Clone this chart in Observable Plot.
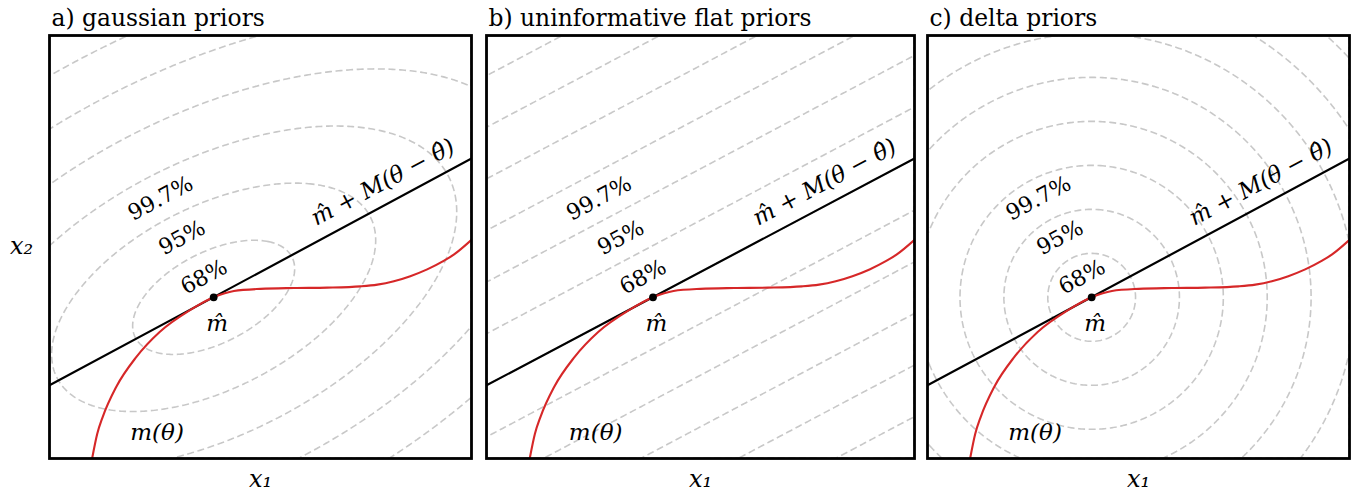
<!DOCTYPE html>
<html>
<head>
<meta charset="utf-8">
<script src="https://cdn.jsdelivr.net/npm/d3@7"></script>
<script src="https://cdn.jsdelivr.net/npm/@observablehq/plot@0.6"></script>
<style>
  html, body { margin: 0; padding: 0; background: #fff; }
  #root { position: relative; width: 1362px; height: 496px; overflow: hidden; background: #fff; }
  .panel { position: absolute; top: 0; }
  #root svg, #root svg text { font-family: "DejaVu Serif", serif !important; }
</style>
</head>
<body>
<div id="root"></div>
<script>
// ---------------- data ----------------
const panelTitles = ["a) gaussian priors", "b) uninformative flat priors", "c) delta priors"];

// best-fit point m-hat (data units, frame spans 0..10 on both axes)
const mHatX = [3.89];
const mHatY = [3.81];

// linearised model  m̂ + M(θ − θ̂): end points
const tangentX = [0, 10];
const tangentY = [1.73, 7.09];

// non-linear model curve m(θ)
const curveX = [1.01, 1.13, 1.26, 1.58, 2.05, 2.61, 3.32, 3.89, 4.37, 5.00, 5.79, 6.58, 7.37, 7.77, 8.16, 8.55, 8.95, 9.34, 9.58, 10.0];
const curveY = [0.00, 0.58, 0.98, 1.69, 2.39, 2.99, 3.50, 3.81, 3.96, 4.01, 4.03, 4.04, 4.07, 4.11, 4.19, 4.31, 4.47, 4.67, 4.82, 5.17];

// confidence level labels
const levelLabels = ["68%", "95%", "99.7%"];
const levelLabelX = [3.66, 3.14, 2.63];
const levelLabelY = [4.29, 5.22, 6.15];

// other annotations
const annoText = ["m\u0302", "m(\u03B8)", "m\u0302 + M(\u03B8 \u2212 \u03B8\u0302)"];
const annoX = [3.97, 2.55, 7.90];
const annoY = [3.18, 0.62, 6.53];
const annoRotate = [0, 0, -28];

// prior / contour parameters
const gaussSigma = [1.92, 1.35];   // sigma along x1, x2
const gaussRho = 0.5;              // correlation
const flatSpacing = 1.22;          // vertical spacing of the flat-prior level lines
const deltaRadius = 1.04;          // radius step of the delta-prior circles
const gaussLevels = [1, 2, 3, 4, 5, 6, 7, 8, 9];
const flatLevels = [-9, -8, -7, -6, -5, -4, -3, -2, -1, 0, 1, 2, 3, 4, 5, 6, 7, 8, 9];
const deltaLevels = [1, 2, 3, 4, 5, 6, 7, 8, 9, 10, 11, 12];

const axisLabelX = "x\u2081";
const axisLabelY = "x\u2082";

// ---------------- derived tables ----------------
const mHat = mHatX.map((x, i) => ({x, y: mHatY[i]}));
const tangent = tangentX.map((x, i) => ({x, y: tangentY[i]}));
const curve = curveX.map((x, i) => ({x, y: curveY[i]}));
const levelTable = levelLabels.map((t, i) => ({t, x: levelLabelX[i], y: levelLabelY[i]}));
const annoTable = annoText.map((t, i) => ({t, x: annoX[i], y: annoY[i], r: annoRotate[i]}));

const mx = mHatX[0], my = mHatY[0];
const [sx, sy] = gaussSigma;
const cov = gaussRho * sx * sy;
const det = sx * sx * sy * sy - cov * cov;
const slope = (tangentY[1] - tangentY[0]) / (tangentX[1] - tangentX[0]);
const intercept = tangentY[0] - slope * tangentX[0];

const gaussValue = (x, y) => {
  const dx = x - mx, dy = y - my;
  return Math.sqrt((sy * sy * dx * dx - 2 * cov * dx * dy + sx * sx * dy * dy) / det);
};
const flatValue = (x, y) => (y - (intercept + slope * x)) / flatSpacing;
const deltaValue = (x, y) => Math.hypot(x - mx, y - my) / deltaRadius;

// ---------------- layout ----------------
const FONT = "DejaVu Serif";
const panels = [
  {left: 0,   inner: 422, mR: 15, value: gaussValue, levels: gaussLevels, yLabel: true},
  {left: 437, inner: 428, mR: 13, value: flatValue,  levels: flatLevels,  yLabel: false},
  {left: 878, inner: 422, mR: 13, value: deltaValue, levels: deltaLevels, yLabel: false}
];

const root = document.getElementById("root");

panels.forEach((p, i) => {
  const mL = 49, mT = 35, mB = 38;
  const marks = [
    Plot.contour({
      value: p.value, x1: 0, y1: 0, x2: 10, y2: 10,
      thresholds: p.levels,
      fill: "none", stroke: "#c8c8c8", strokeWidth: 1.6, strokeDasharray: "7,3.6",
      clip: true
    }),
    Plot.line(tangent, {x: "x", y: "y", stroke: "black", strokeWidth: 2.2, clip: true}),
    Plot.line(curve, {x: "x", y: "y", stroke: "#d62728", strokeWidth: 2.1, curve: "monotone-x", clip: true}),
    Plot.dot(mHat, {x: "x", y: "y", r: 3.9, fill: "black", stroke: "none"}),
    Plot.text(levelTable, {x: "x", y: "y", text: "t", rotate: -28, fontSize: 22, textAnchor: "middle", lineAnchor: "middle", fill: "black", fontFamily: FONT}),
    Plot.text(annoTable, {x: "x", y: "y", text: "t", rotate: (d) => d.r, fontSize: 23, fontStyle: "italic", textAnchor: "middle", lineAnchor: "middle", fill: "black", fontFamily: FONT}),
    Plot.frame({stroke: "black", strokeWidth: 2.8}),
    Plot.text([panelTitles[i]], {text: (d) => d, frameAnchor: "top-left", textAnchor: "start", lineAnchor: "bottom", dx: 2, dy: -10, fontSize: 23.4, fill: "black", fontFamily: FONT}),
    Plot.text([axisLabelX], {text: (d) => d, frameAnchor: "bottom", textAnchor: "middle", lineAnchor: "bottom", dy: 28, fontSize: 24, fontStyle: "italic", fill: "black", fontFamily: FONT})
  ];
  if (p.yLabel) {
    marks.push(Plot.text([axisLabelY], {text: (d) => d, frameAnchor: "left", textAnchor: "middle", lineAnchor: "bottom", dx: -28, dy: 7, fontSize: 24, fontStyle: "italic", fill: "black", fontFamily: FONT}));
  }
  const chart = Plot.plot({
    width: mL + p.inner + p.mR,
    height: 496,
    marginLeft: mL, marginRight: p.mR, marginTop: mT, marginBottom: mB,
    x: {domain: [0, 10], axis: null},
    y: {domain: [0, 10], axis: null},
    style: {background: "transparent", overflow: "visible", fontFamily: FONT},
    marks
  });
  const div = document.createElement("div");
  div.className = "panel";
  div.style.left = p.left + "px";
  div.appendChild(chart);
  root.appendChild(div);
});
</script>
</body>
</html>
